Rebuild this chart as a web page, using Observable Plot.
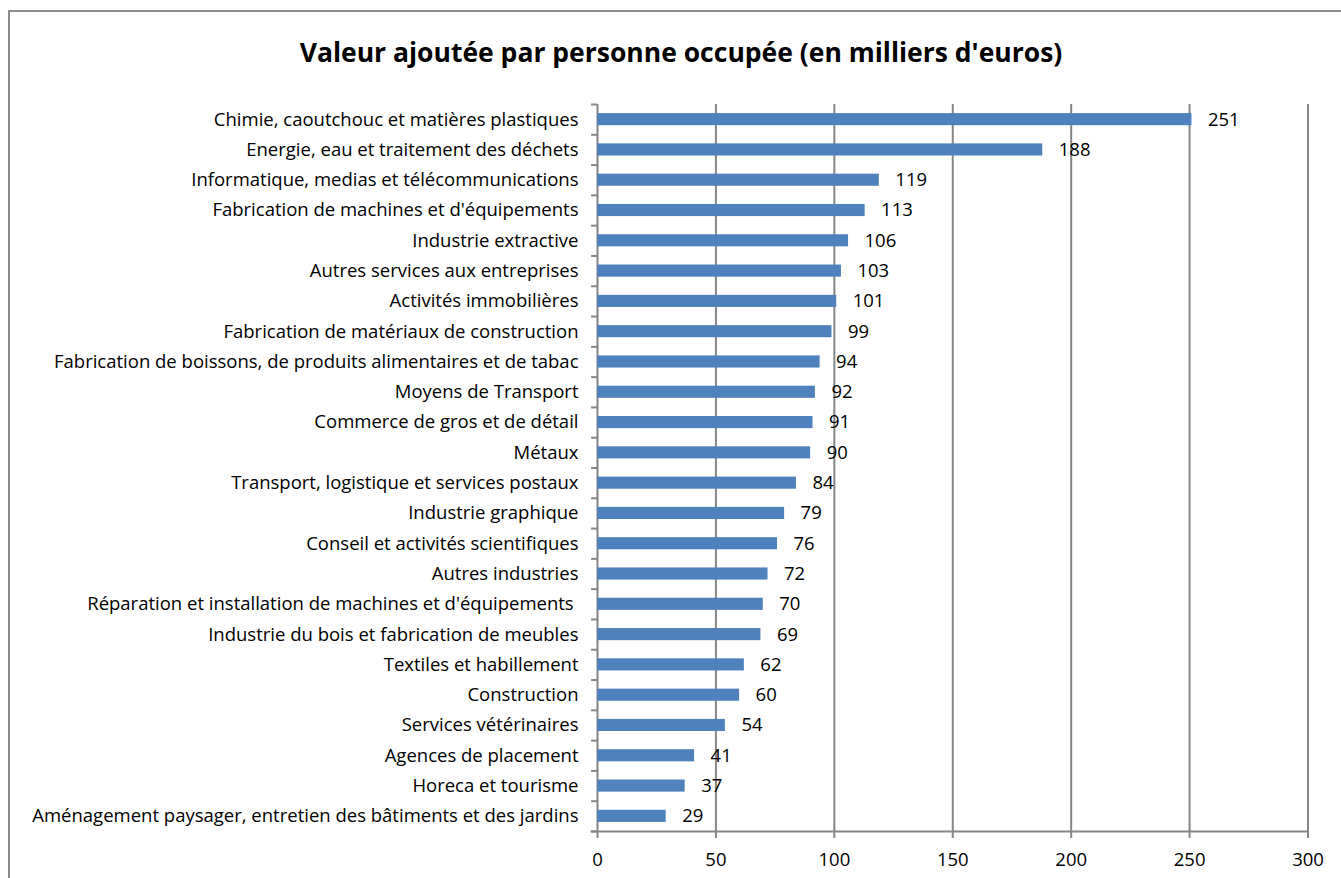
<!DOCTYPE html>
<html>
<head>
<meta charset="utf-8">
<script src="https://cdn.jsdelivr.net/npm/d3@7"></script>
<script src="https://cdn.jsdelivr.net/npm/@observablehq/plot@0.6"></script>
<style>
  html, body { margin: 0; padding: 0; background: #fff; overflow: hidden; width: 1341px; height: 878px; }
  #frame { position: absolute; left: 8px; top: 10px; width: 2000px; height: 2000px; border-top: 2px solid #8c8c8c; border-left: 2px solid #8c8c8c; }
  #title { position: absolute; left: 0; top: 35px; width: 1362px; text-align: center; font-family: "Open Sans", sans-serif; font-weight: bold; font-size: 26.5px; line-height: 34px; color: #000; }
  #chart { position: absolute; left: 0; top: 90px; line-height: 0; }
</style>
</head>
<body>
<div id="frame"></div>
<div id="title">Valeur ajoutée par personne occupée (en milliers d'euros)</div>
<div id="chart"></div>
<script>
const categories = [
  "Chimie, caoutchouc et matières plastiques",
  "Energie, eau et traitement des déchets",
  "Informatique, medias et télécommunications",
  "Fabrication de machines et d'équipements",
  "Industrie extractive",
  "Autres services aux entreprises",
  "Activités immobilières",
  "Fabrication de matériaux de construction",
  "Fabrication de boissons, de produits alimentaires et de tabac",
  "Moyens de Transport",
  "Commerce de gros et de détail",
  "Métaux",
  "Transport, logistique et services postaux",
  "Industrie graphique",
  "Conseil et activités scientifiques",
  "Autres industries",
  "Réparation et installation de machines et d'équipements ",
  "Industrie du bois et fabrication de meubles",
  "Textiles et habillement",
  "Construction",
  "Services vétérinaires",
  "Agences de placement",
  "Horeca et tourisme",
  "Aménagement paysager, entretien des bâtiments et des jardins"
];
const values = [251, 188, 119, 113, 106, 103, 101, 99, 94, 92, 91, 90, 84, 79, 76, 72, 70, 69, 62, 60, 54, 41, 37, 29];
const xTicks = [0, 50, 100, 150, 200, 250, 300];

const data = categories.map((c, i) => ({category: c, value: values[i]}));
const last = categories[categories.length - 1];

const H = 788, mt = 14, mb = 47;
const step = (H - mt - mb) / categories.length;
const grid = "#868686";
const font = "'Open Sans', sans-serif";
const fs = 18.5;

const chart = Plot.plot({
  width: 1341,
  height: H,
  marginTop: mt,
  marginBottom: mb,
  marginLeft: 597,
  marginRight: 33.5,
  style: { fontFamily: font, fontSize: fs + "px", color: "#000", background: "transparent" },
  x: { domain: [0, 300] },
  y: { domain: categories, paddingInner: 0.6, paddingOuter: 0.3, round: false },
  marks: [
    Plot.ruleX(xTicks, { stroke: grid, strokeWidth: 2 }),
    Plot.ruleY([last], { dy: step / 2, x1: -2.7, x2: 300, stroke: grid, strokeWidth: 2 }),
    Plot.ruleY(categories, { dy: -step / 2, x1: -2.5, x2: 0, stroke: grid, strokeWidth: 2 }),
    Plot.ruleY([last], { dy: step / 2, x1: -2.5, x2: 0, stroke: grid, strokeWidth: 2 }),
    Plot.barX(data, { x: "value", y: "category", fill: "#4F81BD" }),
    Plot.text(data, { x: "value", y: "category", text: d => String(d.value), dx: 16, textAnchor: "start", fill: "#000", fontSize: fs }),
    Plot.axisY({ tickSize: 0, tickPadding: 19, label: null, fill: "#000", fontSize: fs }),
    Plot.axisX({ ticks: xTicks, tickSize: 7, tickPadding: 14, stroke: grid, strokeWidth: 2, label: null, fill: "#000", fontSize: fs, tickFormat: d => String(d) })
  ]
});
document.getElementById("chart").appendChild(chart);
</script>
</body>
</html>
